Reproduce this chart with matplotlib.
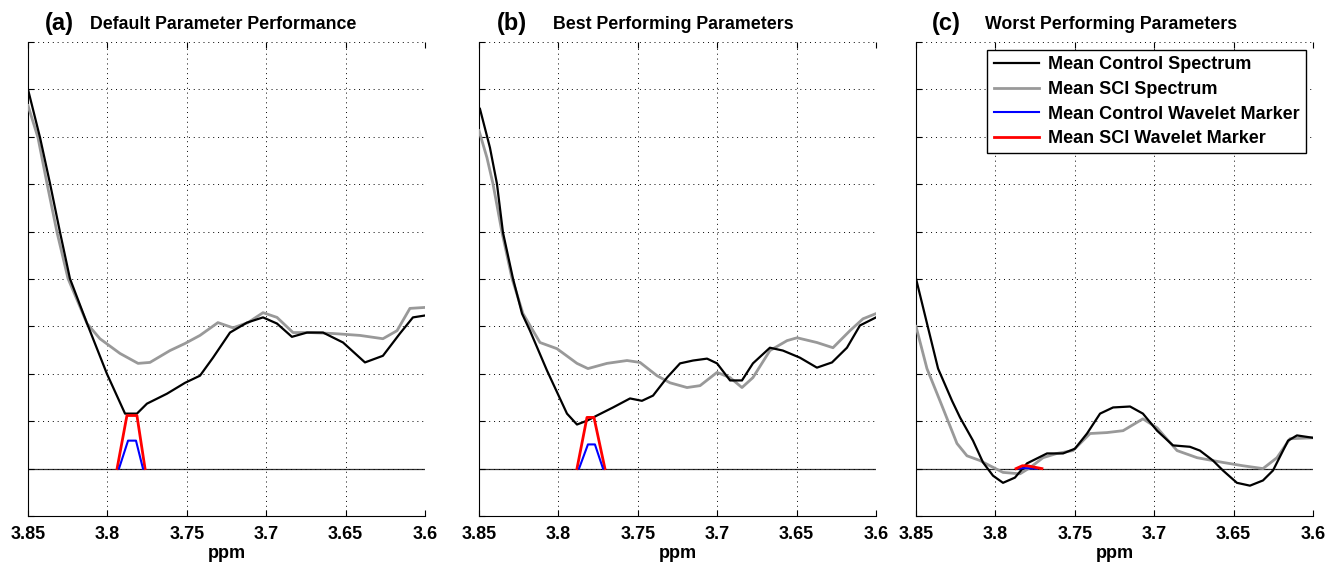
import matplotlib
matplotlib.use("Agg")
import matplotlib.pyplot as plt
import numpy as np

plt.rcParams['font.family'] = ['Liberation Sans', 'DejaVu Sans']

# ---- data (ppm, arbitrary intensity) ----
a_ctrl_x = [3.850, 3.8424, 3.8361, 3.8298, 3.8236, 3.8128, 3.8003, 3.7889, 3.7814, 3.7751,
            3.7625, 3.7511, 3.7417, 3.7335, 3.7228, 3.7121, 3.7020, 3.6932, 3.6838, 3.6743,
            3.6642, 3.6516, 3.6378, 3.6265, 3.6158, 3.6076, 3.600]
a_ctrl_y = [8.00, 6.98, 6.01, 4.98, 4.01, 3.06, 2.00, 1.16, 1.16, 1.37,
            1.58, 1.81, 1.96, 2.34, 2.87, 3.08, 3.19, 3.06, 2.78, 2.87,
            2.87, 2.66, 2.24, 2.38, 2.85, 3.19, 3.23]
a_sci_x = [3.850, 3.8437, 3.8380, 3.8317, 3.8248, 3.8128, 3.8047, 3.7921, 3.7807, 3.7732,
           3.7606, 3.7511, 3.7417, 3.7304, 3.7209, 3.7115, 3.7020, 3.6932, 3.6831, 3.6724,
           3.6579, 3.6410, 3.6265, 3.6176, 3.6095, 3.600]
a_sci_y = [7.66, 6.98, 6.01, 4.98, 4.01, 3.06, 2.74, 2.43, 2.22, 2.24,
           2.49, 2.64, 2.81, 3.08, 2.97, 3.08, 3.29, 3.19, 2.87, 2.87,
           2.85, 2.81, 2.74, 2.91, 3.38, 3.40]
a_ctrl_wav_x = [3.7927, 3.7870, 3.7820, 3.7776]
a_ctrl_wav_y = [0.0, 0.59, 0.59, 0.0]
a_sci_wav_x = [3.7939, 3.7877, 3.7814, 3.7763]
a_sci_wav_y = [0.0, 1.12, 1.12, 0.0]

b_ctrl_x = [3.8494, 3.8431, 3.8387, 3.8349, 3.8286, 3.8229, 3.8179, 3.8072, 3.7946, 3.7883,
            3.7820, 3.7757, 3.7656, 3.7549, 3.7474, 3.7404, 3.7316, 3.7234, 3.7152, 3.7064,
            3.7001, 3.6919, 3.6844, 3.6775, 3.6668, 3.6586, 3.6479, 3.6372, 3.6277, 3.6183,
            3.6101, 3.600]
b_ctrl_y = [7.59, 6.77, 6.01, 4.98, 4.01, 3.27, 2.91, 2.07, 1.16, 0.93,
            1.01, 1.12, 1.29, 1.48, 1.43, 1.54, 1.92, 2.22, 2.28, 2.32,
            2.22, 1.86, 1.86, 2.22, 2.55, 2.49, 2.34, 2.13, 2.24, 2.55,
            3.02, 3.19]
b_sci_x = [3.850, 3.8450, 3.8412, 3.8355, 3.8292, 3.8223, 3.8116, 3.8009, 3.7883, 3.7814,
           3.7694, 3.7568, 3.7486, 3.7379, 3.7297, 3.7190, 3.7108, 3.7001, 3.6919, 3.6844,
           3.6775, 3.6668, 3.6560, 3.6497, 3.6372, 3.6271, 3.6164, 3.6082, 3.600]
b_sci_y = [7.13, 6.56, 6.01, 4.98, 4.01, 3.27, 2.66, 2.53, 2.22, 2.11,
           2.22, 2.28, 2.24, 1.96, 1.81, 1.71, 1.75, 2.03, 1.92, 1.71,
           1.92, 2.49, 2.70, 2.76, 2.66, 2.55, 2.91, 3.16, 3.27]
b_ctrl_wav_x = [3.7870, 3.7814, 3.7770, 3.7719]
b_ctrl_wav_y = [0.0, 0.51, 0.51, 0.0]
b_sci_wav_x = [3.7883, 3.7820, 3.7776, 3.7707]
b_sci_wav_y = [0.0, 1.08, 1.08, 0.0]

c_ctrl_x = [3.850, 3.8424, 3.8361, 3.8273, 3.8223, 3.8141, 3.8078, 3.8015, 3.7952, 3.7877,
            3.7801, 3.7675, 3.7574, 3.7499, 3.7423, 3.7341, 3.7259, 3.7152, 3.7071, 3.6982,
            3.6882, 3.6775, 3.6712, 3.6630, 3.6567, 3.6479, 3.6397, 3.6315, 3.6252, 3.6157,
            3.6101, 3.600]
c_ctrl_y = [4.01, 2.97, 2.11, 1.43, 1.08, 0.59, 0.13, -0.15, -0.30, -0.19,
            0.11, 0.32, 0.32, 0.42, 0.74, 1.16, 1.29, 1.31, 1.16, 0.80,
            0.49, 0.46, 0.38, 0.17, -0.04, -0.30, -0.36, -0.25, -0.04, 0.59,
            0.70, 0.65]
c_sci_x = [3.850, 3.8431, 3.8349, 3.8242, 3.8179, 3.8097, 3.8034, 3.7952, 3.7845, 3.7782,
           3.7700, 3.7612, 3.7511, 3.7404, 3.7297, 3.7196, 3.7071, 3.6982, 3.6856, 3.6730,
           3.6567, 3.6441, 3.6315, 3.6227, 3.6145, 3.600]
c_sci_y = [3.00, 2.11, 1.43, 0.53, 0.27, 0.17, 0.06, -0.08, -0.11, 0.02,
           0.23, 0.32, 0.38, 0.74, 0.76, 0.80, 1.05, 0.86, 0.38, 0.23,
           0.13, 0.06, 0.00, 0.23, 0.63, 0.65]
c_ctrl_wav_x = [3.785, 3.783, 3.781, 3.774]
c_ctrl_wav_y = [0.0, 0.01, 0.01, 0.0]
c_sci_wav_x = [3.787, 3.783, 3.780, 3.7707]
c_sci_wav_y = [0.0, 0.06, 0.06, 0.0]

panel_tags = ['(a)', '(b)', '(c)']
panel_titles = ['Default Parameter Performance', 'Best Performing Parameters',
                'Worst Performing Parameters']
legend_labels = ['Mean Control Spectrum', 'Mean SCI Spectrum',
                 'Mean Control Wavelet Marker', 'Mean SCI Wavelet Marker']
xticks = [3.85, 3.8, 3.75, 3.7, 3.65, 3.6]
xtick_labels = ['3.85', '3.8', '3.75', '3.7', '3.65', '3.6']

panels = [
    (a_ctrl_x, a_ctrl_y, a_sci_x, a_sci_y, a_ctrl_wav_x, a_ctrl_wav_y, a_sci_wav_x, a_sci_wav_y),
    (b_ctrl_x, b_ctrl_y, b_sci_x, b_sci_y, b_ctrl_wav_x, b_ctrl_wav_y, b_sci_wav_x, b_sci_wav_y),
    (c_ctrl_x, c_ctrl_y, c_sci_x, c_sci_y, c_ctrl_wav_x, c_ctrl_wav_y, c_sci_wav_x, c_sci_wav_y),
]

W, H = 1339, 562
fig = plt.figure(figsize=(W / 100, H / 100), dpi=100)

ax_lefts = [28, 479, 916]
tag_x = [45, 497, 932]
title_x = [90, 553, 985]
ax_w, ax_top, ax_bot = 397, 42, 516

grey = '#999999'
for i, (cx, cy, sx, sy, cwx, cwy, swx, swy) in enumerate(panels):
    ax = fig.add_axes([ax_lefts[i] / W, (H - ax_bot) / H, ax_w / W, (ax_bot - ax_top) / H])
    ax.axhline(0, color='#303030', lw=0.9, zorder=1)
    l1, = ax.plot(cx, cy, color='black', lw=1.6, zorder=4)
    l2, = ax.plot(sx, sy, color=grey, lw=2.0, zorder=3)
    l3, = ax.plot(cwx, cwy, color='blue', lw=1.5, zorder=5)
    l4, = ax.plot(swx, swy, color='red', lw=2.0, zorder=6 if i == 2 else 4.5)

    ax.set_xlim(3.85, 3.6)
    ax.set_ylim(-1, 9)
    ax.set_xticks(xticks)
    ax.set_xticklabels(xtick_labels, fontsize=13, fontweight='bold')
    ax.set_yticks(np.arange(-1, 10, 1))
    ax.set_yticklabels([])
    ax.tick_params(direction='in', length=4, width=0.8, top=True, pad=7)
    ax.grid(True, color='black', linestyle=(0, (1, 4)), lw=0.7)
    ax.spines['top'].set_visible(False)
    ax.spines['right'].set_visible(False)
    ax.set_xlabel('ppm', fontsize=13, fontweight='bold', labelpad=2)

    fig.text(tag_x[i] / W, 1 - 30 / H, panel_tags[i], fontsize=17, fontweight='bold',
             ha='left', va='baseline')
    fig.text(title_x[i] / W, 1 - 29 / H, panel_titles[i], fontsize=12.8, fontweight='bold',
             ha='left', va='baseline')

    if i == 2:
        leg = ax.legend([l1, l2, l3, l4], legend_labels, loc='upper right',
                        bbox_to_anchor=(0.982, 0.983), borderaxespad=0,
                        fancybox=False, framealpha=1, edgecolor='black',
                        prop={'weight': 'bold', 'size': 13},
                        handlelength=2.5, handletextpad=0.5, labelspacing=0.42,
                        borderpad=0.35)
        leg.get_frame().set_linewidth(1.0)

fig.savefig('out.png', dpi=100)
